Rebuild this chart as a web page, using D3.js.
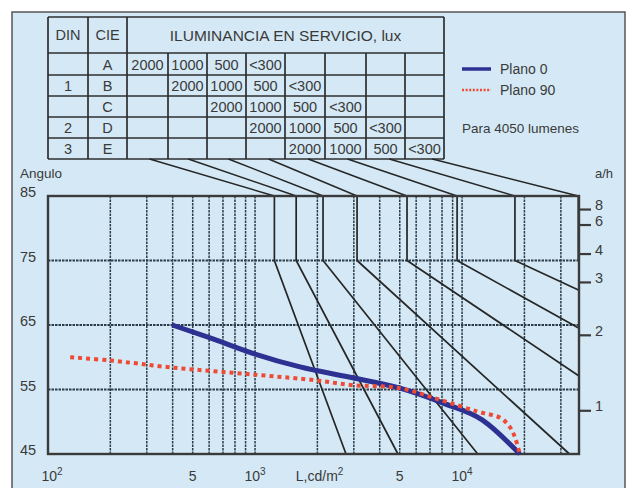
<!DOCTYPE html>
<html><head><meta charset="utf-8">
<script src="https://cdn.jsdelivr.net/npm/d3@7"></script>
<style>
body{margin:0;background:#fff}
svg{display:block}
text{font-family:"Liberation Sans",Arial,sans-serif;fill:#3a3a3a}
</style>
</head><body>
<svg id="c" width="627" height="488"></svg>
<script>
// ---------- DATA ----------
const cieClasses = ["A", "B", "C", "D", "E"];
const dinClasses = ["", "1", "", "2", "3"];
const illuminanceLevels = ["2000", "1000", "500", "<300"];
const tableTitle = "ILUMINANCIA EN SERVICIO, lux";
// Söllner limit curves: luminance of vertical part (85°–75°) and end of slanted part
const limitTopL = [1240, 1580, 2130, 3110, 5420, 9460, 18000, 36400];
const limitEnd = [[2750, 45], [4900, 45], [11900, 45], [33000, 45], [36700, 57.1], [36700, 64.5], [36700, 70.4], [36400, 75]];
// luminaire curves [L cd/m2, angle]
const plano0 = [[398, 65], [607, 63], [1000, 60.5], [1650, 58.5], [2880, 56.9], [5010, 55.2], [8090, 52.9], [12500, 50.3], [19000, 45]];
const plano90 = [[128, 60], [200, 59.5], [400, 58.4], [1000, 57.3], [2000, 56.4], [2900, 55.7], [5000, 55.2], [7830, 53.4], [11800, 51.6], [15300, 50.6], [17000, 49.2], [18000, 47.6], [19000, 45]];
const angleTicks = [45, 55, 65, 75, 85];
const angleGrid = [55, 65, 75];
const lumGrid = [200, 300, 400, 500, 600, 700, 800, 900, 1000, 2000, 3000, 4000, 5000, 6000, 7000, 8000, 9000, 10000, 20000, 30000];
const lumTickValues = [100, 500, 1000, 5000, 10000];
const lumTickBase = ["10", "5", "10", "5", "10"];
const lumTickExp = ["2", "", "3", "", "4"];
const ahLabels = ["8", "6", "4", "3", "2", "1"];
const ahAngles = [82.9, 80.5, 76, 71.6, 63.4, 51.7];
const legendNames = ["Plano 0", "Plano 90"];
const noteText = "Para 4050 lumenes";

// ---------- LAYOUT ----------
const svg = d3.select("#c");
const P = {l: 48, r: 579, t: 196, b: 454};
const x = d3.scaleLog().domain([100, 36700]).range([P.l, P.r]);
const y = d3.scaleLinear().domain([45, 85]).range([P.b, P.t]);
const dark = "#2e2e2e";
const gridC = "#2a3c4a";

// background & frame
svg.append("rect").attr("x", 12).attr("y", 12).attr("width", 613).attr("height", 500)
  .attr("fill", "#d4e9f5").attr("stroke", "#555").attr("stroke-width", 1.5);

// gridlines
const g = svg.append("g");
g.selectAll(".vg").data(lumGrid).join("line")
  .attr("x1", d => x(d)).attr("x2", d => x(d)).attr("y1", P.t).attr("y2", P.b)
  .attr("stroke", gridC).attr("stroke-width", 1.5).attr("stroke-dasharray", "2.5,1");
g.selectAll(".hg").data(angleGrid).join("line")
  .attr("x1", P.l).attr("x2", P.r).attr("y1", d => y(d)).attr("y2", d => y(d))
  .attr("stroke", gridC).attr("stroke-width", 1.8).attr("stroke-dasharray", "2.5,1");

// table
const colX = [48, 88, 127, 168, 207, 246, 285, 325, 366, 405, 444];
const rowY = [17, 53, 75, 96, 117, 138, 159];
const tb = svg.append("g");
rowY.forEach(yy => tb.append("line").attr("x1", colX[0]).attr("x2", colX[colX.length - 1]).attr("y1", yy).attr("y2", yy).attr("stroke", dark).attr("stroke-width", 1.7));
colX.forEach((xx, i) => {
  const full = (i <= 2 || i === colX.length - 1);
  tb.append("line").attr("x1", xx).attr("x2", xx).attr("y1", full ? rowY[0] : rowY[1]).attr("y2", rowY[rowY.length - 1]).attr("stroke", dark).attr("stroke-width", 1.7);
});
const cellText = (cx, cy, t, size) => tb.append("text").attr("x", cx).attr("y", cy).attr("text-anchor", "middle").attr("dominant-baseline", "central").attr("font-size", size).text(t);
cellText((colX[0] + colX[1]) / 2, (rowY[0] + rowY[1]) / 2, "DIN", 14.5);
cellText((colX[1] + colX[2]) / 2, (rowY[0] + rowY[1]) / 2, "CIE", 14.5);
cellText((colX[2] + colX[colX.length - 1]) / 2, (rowY[0] + rowY[1]) / 2, tableTitle, 15.5);
cieClasses.forEach((c, r) => {
  const cy = (rowY[r + 1] + rowY[r + 2]) / 2 + 0.5;
  cellText((colX[0] + colX[1]) / 2, cy, dinClasses[r], 14.5);
  cellText((colX[1] + colX[2]) / 2, cy, c, 14.5);
  illuminanceLevels.forEach((v, k) => {
    const ci = 2 + r + k;
    cellText((colX[ci] + colX[ci + 1]) / 2, cy, v, 14.5);
  });
});

// limit curves
const connFrac = [0.55, 0.52, 0.55, 0.58, 0.58, 0.55, 0.6, 0.7];
const lc = svg.append("g").attr("fill", "none").attr("stroke", "#262626");
limitTopL.forEach((L, i) => {
  const sx = colX[2 + i] + connFrac[i] * (colX[3 + i] - colX[2 + i]);
  lc.append("line").attr("x1", sx).attr("y1", rowY[rowY.length - 1]).attr("x2", x(L)).attr("y2", P.t).attr("stroke-width", 1.5);
  const pts = [[L, 85], [L, 75], limitEnd[i]];
  lc.append("path").attr("d", d3.line().x(d => x(d[0])).y(d => y(d[1]))(pts)).attr("stroke-width", 1.7);
});

// plot border
svg.append("rect").attr("x", P.l).attr("y", P.t).attr("width", P.r - P.l).attr("height", P.b - P.t)
  .attr("fill", "none").attr("stroke", "#3a3a3a").attr("stroke-width", 2.4);

// data curves
const line = d3.line().x(d => x(d[0])).y(d => y(d[1])).curve(d3.curveMonotoneX);
svg.append("path").attr("d", line(plano0)).attr("fill", "none").attr("stroke", "#2d3192").attr("stroke-width", 5).attr("stroke-linejoin", "round");
svg.append("path").attr("d", d3.line().x(d => x(d[0])).y(d => y(d[1])).curve(d3.curveCatmullRom)(plano90)).attr("fill", "none").attr("stroke", "#ef4a34").attr("stroke-width", 4).attr("stroke-dasharray", "4,4");

// left axis labels
svg.selectAll(".yl").data(angleTicks).join("text")
  .attr("x", 20).attr("y", d => y(d) + 1).attr("font-size", 14.5).text(d => d);
svg.append("text").attr("x", 20).attr("y", 178).attr("font-size", 13.5).text("Angulo");

// bottom axis labels
lumTickValues.forEach((v, i) => {
  const t = svg.append("text").attr("x", x(v) + (i === 0 ? 4 : 0)).attr("y", 481).attr("font-size", 14).attr("text-anchor", "middle");
  t.append("tspan").text(lumTickBase[i]);
  if (lumTickExp[i]) t.append("tspan").attr("dy", -6).attr("font-size", 10).text(lumTickExp[i]);
});
const xl = svg.append("text").attr("x", x(2050)).attr("y", 481).attr("font-size", 14).attr("text-anchor", "middle");
xl.append("tspan").text("L,cd/m");
xl.append("tspan").attr("dy", -6).attr("font-size", 10).text("2");

// right a/h axis
const ah = svg.append("g");
ahAngles.forEach((a, i) => {
  ah.append("line").attr("x1", P.r).attr("x2", P.r + 12).attr("y1", y(a)).attr("y2", y(a)).attr("stroke", "#3a3a3a").attr("stroke-width", 2.2);
  ah.append("text").attr("x", 595).attr("y", y(a) + 0.5).attr("font-size", 14.5).text(ahLabels[i]);
});
svg.append("text").attr("x", 595).attr("y", 178).attr("font-size", 13).text("a/h");

// legend
const lg = svg.append("g");
lg.append("line").attr("x1", 462).attr("x2", 491).attr("y1", 69).attr("y2", 69).attr("stroke", "#2d3192").attr("stroke-width", 3.5);
lg.append("line").attr("x1", 462).attr("x2", 491).attr("y1", 90).attr("y2", 90).attr("stroke", "#ef4a34").attr("stroke-width", 2.5).attr("stroke-dasharray", "2,1.6");
legendNames.forEach((n, i) => lg.append("text").attr("x", 500).attr("y", 74 + i * 21).attr("font-size", 14).text(n));
lg.append("text").attr("x", 462).attr("y", 133).attr("font-size", 13.5).text(noteText);
</script>
</body></html>
